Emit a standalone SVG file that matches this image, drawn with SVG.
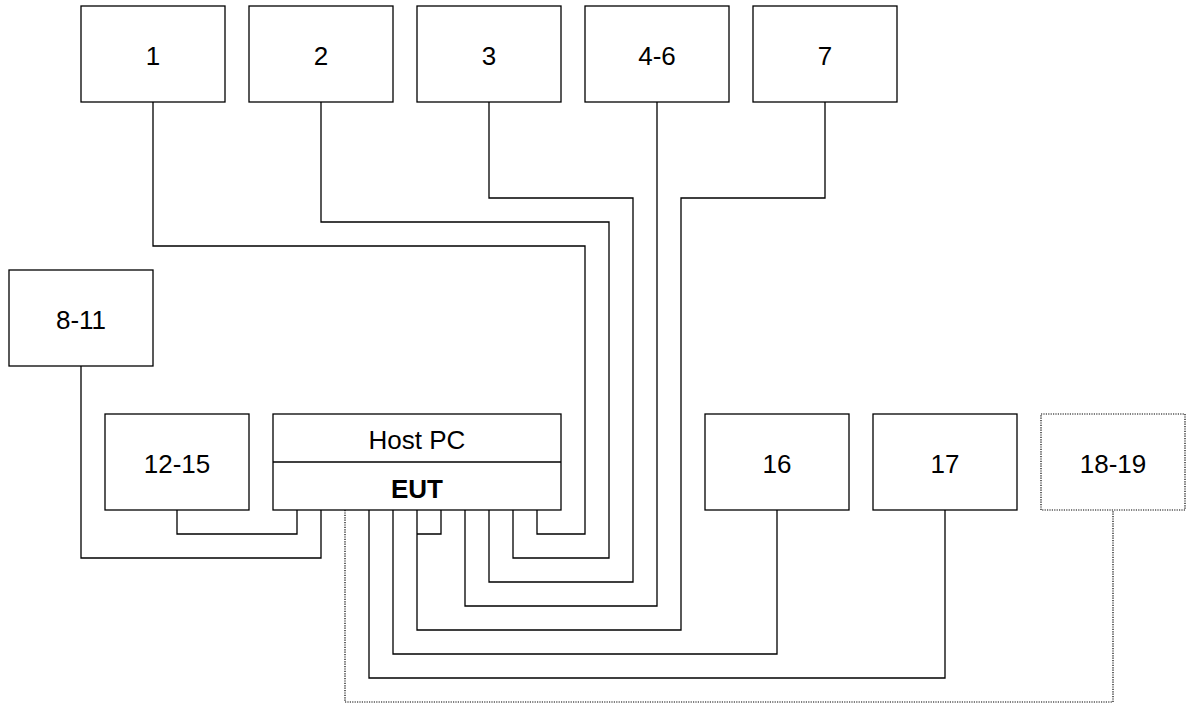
<svg xmlns="http://www.w3.org/2000/svg" width="1186" height="703" viewBox="0 0 1186 703">
<style>
.box{fill:#fff;stroke:#000;stroke-width:1.3}
.dbox{fill:#fff;stroke:#000;stroke-width:1.2;stroke-dasharray:1.2 1.2}
.lbl{font-family:"Liberation Sans",Arial,sans-serif;font-size:26px;text-anchor:middle;fill:#000}
.b{font-weight:bold}
.w{fill:none;stroke:#000;stroke-width:1.3}
.d{fill:none;stroke:#000;stroke-width:1.2;stroke-dasharray:1.2 1.2}
</style>
<rect width="1186" height="703" fill="#fff"/>
<g id="connectors">
<polyline class="w" points="537,510 537,534 585,534 585,246 153,246 153,102"/>
<polyline class="w" points="513,510 513,558 609,558 609,222 321,222 321,102"/>
<polyline class="w" points="489,510 489,582 633,582 633,198 489,198 489,102"/>
<polyline class="w" points="465,510 465,606 657,606 657,102"/>
<polyline class="w" points="417,510 417,630 681,630 681,198 825,198 825,102"/>
<polyline class="w" points="417,534 441,534 441,510"/>
<polyline class="w" points="393,510 393,654 777,654 777,510"/>
<polyline class="w" points="369,510 369,678 945,678 945,510"/>
<polyline class="d" points="345,510 345,702 1113,702 1113,510"/>
<polyline class="w" points="177,510 177,534 297,534 297,510"/>
<polyline class="w" points="81,366 81,558 321,558 321,510"/>
</g>
<g id="n1"><rect class="box" x="81" y="6" width="144" height="96"/><text class="lbl" x="153" y="65">1</text></g>
<g id="n2"><rect class="box" x="249" y="6" width="144" height="96"/><text class="lbl" x="321" y="65">2</text></g>
<g id="n3"><rect class="box" x="417" y="6" width="144" height="96"/><text class="lbl" x="489" y="65">3</text></g>
<g id="n4-6"><rect class="box" x="585" y="6" width="144" height="96"/><text class="lbl" x="657" y="65">4-6</text></g>
<g id="n7"><rect class="box" x="753" y="6" width="144" height="96"/><text class="lbl" x="825" y="65">7</text></g>
<g id="n8-11"><rect class="box" x="9" y="270" width="144" height="96"/><text class="lbl" x="81" y="329">8-11</text></g>
<g id="n12-15"><rect class="box" x="105" y="414" width="144" height="96"/><text class="lbl" x="177" y="473">12-15</text></g>
<g id="host"><rect class="box" x="273" y="414" width="288" height="96"/><line class="w" x1="273" y1="462" x2="561" y2="462"/><text class="lbl" x="417" y="449">Host PC</text><text class="lbl b" x="417" y="498">EUT</text></g>
<g id="n16"><rect class="box" x="705" y="414" width="144" height="96"/><text class="lbl" x="777" y="473">16</text></g>
<g id="n17"><rect class="box" x="873" y="414" width="144" height="96"/><text class="lbl" x="945" y="473">17</text></g>
<g id="n18-19"><rect class="dbox" x="1041" y="414" width="144" height="96"/><text class="lbl" x="1113" y="473">18-19</text></g>
</svg>
